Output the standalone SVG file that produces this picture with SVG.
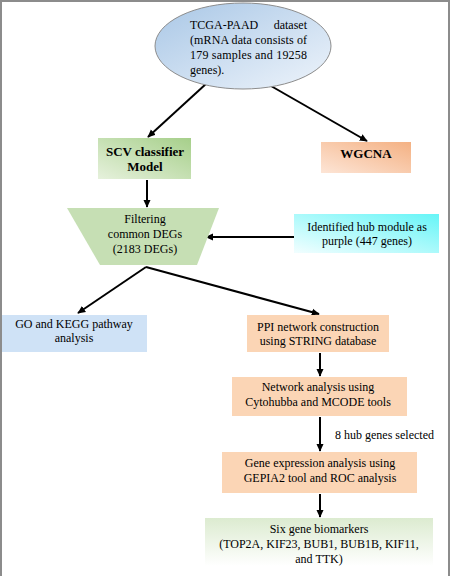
<svg xmlns="http://www.w3.org/2000/svg" width="454" height="576" viewBox="0 0 454 576" font-family="'Liberation Serif', 'Times New Roman', serif" font-size="12">
<defs>
<linearGradient id="gEll" x1="0" y1="0" x2="1" y2="1"><stop offset="0" stop-color="#a9c7e6"/><stop offset="1" stop-color="#eef4fb"/></linearGradient>
<linearGradient id="gSCV" x1="1" y1="0" x2="0" y2="1"><stop offset="0" stop-color="#a6cf8a"/><stop offset="1" stop-color="#e6f1dc"/></linearGradient>
<linearGradient id="gWG" x1="1" y1="0" x2="0" y2="1"><stop offset="0" stop-color="#f4b183"/><stop offset="1" stop-color="#fde5d6"/></linearGradient>
<linearGradient id="gHub" x1="1" y1="0" x2="0" y2="1"><stop offset="0" stop-color="#66f5f7"/><stop offset="1" stop-color="#f2feff"/></linearGradient>
<linearGradient id="gSix" x1="0" y1="0" x2="0" y2="1"><stop offset="0" stop-color="#dcebd0"/><stop offset="1" stop-color="#ffffff"/></linearGradient>
<marker id="ah" viewBox="0 0 10 10" refX="9" refY="5" markerWidth="8" markerHeight="8" orient="auto" markerUnits="userSpaceOnUse"><path d="M0,0.5 L10,5 L0,9.5 z" fill="#000"/></marker>
<style>
text{fill:#000}
.b{font-weight:bold;font-size:13px}
.c{text-anchor:middle}
.ln{stroke:#000;stroke-width:2;fill:none;marker-end:url(#ah)}
.peach{fill:#fbd5b5}
</style>
</defs>
<rect x="0" y="0" width="454" height="576" fill="#fff"/>
<path d="M1,576 V1 H449 V576" fill="none" stroke="#8c8c8c" stroke-width="2"/>

<g id="connectors">
<line class="ln" x1="207" y1="83" x2="148" y2="137"/>
<line class="ln" x1="271" y1="86" x2="367" y2="141"/>
<line class="ln" x1="147" y1="180" x2="147" y2="207"/>
<line class="ln" x1="294" y1="237" x2="206" y2="237"/>
<line class="ln" x1="146" y1="267" x2="78" y2="313"/>
<line class="ln" x1="146" y1="267" x2="319" y2="314"/>
<line class="ln" x1="320" y1="353" x2="320" y2="376"/>
<line class="ln" x1="320" y1="417" x2="320" y2="451"/>
<line class="ln" x1="320" y1="494" x2="320" y2="517"/>
</g>

<g id="n-tcga">
<ellipse cx="243" cy="46" rx="88" ry="43" fill="url(#gEll)" stroke="#8d8d8d" stroke-width="1"/>
<text x="190" y="29">TCGA-PAAD</text><text x="307" y="29" text-anchor="end">dataset</text>
<text x="190" y="44" textLength="117" lengthAdjust="spacing">(mRNA data consists of</text>
<text x="190" y="59" textLength="117" lengthAdjust="spacing">179 samples and 19258</text>
<text x="190" y="74">genes).</text>
</g>

<g id="n-scv">
<rect x="98" y="138" width="93" height="41" fill="url(#gSCV)"/>
<text class="b c" x="145" y="156">SCV classifier</text>
<text class="b c" x="145" y="171">Model</text>
</g>

<g id="n-wgcna">
<rect x="321" y="142" width="90" height="31" fill="url(#gWG)"/>
<text class="b c" x="366" y="158">WGCNA</text>
</g>

<g id="n-filter">
<polygon points="67,208 219,208 197,265 100,265" fill="#c6dfb4"/>
<text class="c" x="145" y="223">Filtering</text>
<text class="c" x="145" y="238">common DEGs</text>
<text class="c" x="145" y="253">(2183 DEGs)</text>
</g>

<g id="n-hub">
<rect x="294" y="214" width="145" height="39" fill="url(#gHub)"/>
<text class="c" x="367" y="231">Identified hub module as</text>
<text class="c" x="367" y="245">purple (447 genes)</text>
</g>

<g id="n-go">
<rect x="2" y="315" width="145" height="37" fill="#cfe2f6"/>
<text class="c" x="74" y="328">GO and KEGG pathway</text>
<text class="c" x="74" y="342">analysis</text>
</g>

<g id="n-ppi">
<rect class="peach" x="247" y="315" width="142" height="37"/>
<text class="c" x="318" y="331">PPI network construction</text>
<text class="c" x="318" y="345">using STRING database</text>
</g>

<g id="n-net">
<rect class="peach" x="232" y="377" width="175" height="39"/>
<text class="c" x="318" y="391">Network analysis using</text>
<text class="c" x="318" y="406">Cytohubba and MCODE tools</text>
</g>

<text x="335" y="439">8 hub genes selected</text>

<g id="n-gene">
<rect class="peach" x="222" y="452" width="195" height="41"/>
<text class="c" x="320" y="467">Gene expression analysis using</text>
<text class="c" x="320" y="482">GEPIA2 tool and ROC analysis</text>
</g>

<g id="n-six">
<rect x="205" y="518" width="228" height="48" fill="url(#gSix)"/>
<text class="c" x="319" y="533">Six gene biomarkers</text>
<text class="c" x="319" y="548">(TOP2A, KIF23, BUB1, BUB1B, KIF11,</text>
<text class="c" x="319" y="563">and TTK)</text>
</g>
</svg>
